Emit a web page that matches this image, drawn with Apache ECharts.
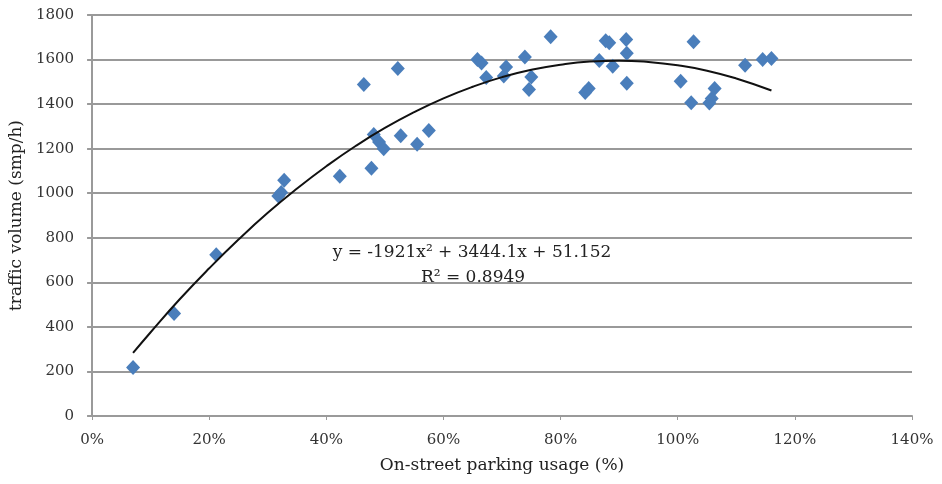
<!DOCTYPE html>
<html>
<head>
<meta charset="utf-8">
<script src="https://cdn.jsdelivr.net/npm/echarts@6/dist/echarts.min.js"></script>
<style>
  html, body { margin: 0; padding: 0; background: #fff; }
  #chart { width: 942px; height: 484px; }
</style>
</head>
<body>
<div id="chart"></div>
<script>
  // parking usage (fraction) vs traffic volume (smp/h)
  var usage = [
    0.07, 0.14, 0.212, 0.318, 0.323, 0.328, 0.423, 0.464, 0.477, 0.481,
    0.49, 0.498, 0.522, 0.527, 0.555, 0.575, 0.658, 0.665, 0.673, 0.703,
    0.707, 0.739, 0.746, 0.75, 0.783, 0.842, 0.848, 0.866, 0.877, 0.883,
    0.889, 0.912, 0.913, 0.913, 1.005, 1.023, 1.027, 1.054, 1.058, 1.063,
    1.115, 1.145, 1.16
  ];
  var volume = [
    218, 460, 724, 988, 1003, 1058, 1076, 1488, 1112, 1264,
    1230, 1200, 1560, 1258, 1220, 1282, 1600, 1585, 1520, 1526,
    1567, 1612, 1466, 1522, 1702, 1452, 1470, 1596, 1684, 1675,
    1570, 1690, 1628, 1494, 1503, 1406, 1680, 1405, 1425, 1470,
    1575, 1600, 1605
  ];

  // polynomial trendline as drawn
  var trendX = [0.07, 0.10, 0.15, 0.20, 0.25, 0.30, 0.35, 0.40, 0.45, 0.50, 0.55,
                0.60, 0.65, 0.70, 0.75, 0.80, 0.85, 0.90, 0.95, 1.00, 1.05, 1.10, 1.16];
  var trendY = [283, 376, 525, 663, 792, 912, 1021, 1121, 1212, 1293, 1364,
                1426, 1478, 1521, 1554, 1577, 1591, 1595, 1589, 1574, 1550, 1515, 1461];

  var yTicks = [0, 200, 400, 600, 800, 1000, 1200, 1400, 1600, 1800];
  var equationText = 'y = -1921x\u00b2 + 3444.1x + 51.152';
  var r2Text = 'R\u00b2 = 0.8949';

  var pts = usage.map(function (u, i) { return [u, volume[i]]; });
  var trend = trendX.map(function (u, i) { return [u, trendY[i]]; });

  var font = '"DejaVu Serif", "Liberation Serif", serif';
  var myChart = echarts.init(document.getElementById('chart'));

  var option = {
    animation: false,
    backgroundColor: '#fff',
    grid: {
      left: 92,
      right: 30,
      top: 15,
      bottom: 68
    },
    xAxis: {
      type: 'value',
      min: 0,
      max: 1.4,
      interval: 0.2,
      name: 'On-street parking usage (%)',
      nameLocation: 'middle',
      nameGap: 41,
      nameTextStyle: { fontFamily: font, fontSize: 17, color: '#222' },
      splitLine: { show: false },
      axisLine: { show: true, lineStyle: { color: '#9a9a9a', width: 2 } },
      axisTick: { show: true, length: 4, lineStyle: { color: '#9a9a9a', width: 1 } },
      axisLabel: {
        margin: 17,
        fontFamily: font,
        fontSize: 15,
        color: '#333',
        formatter: function (v) { return Math.round(v * 100) + '%'; }
      }
    },
    yAxis: {
      type: 'value',
      min: yTicks[0],
      max: yTicks[yTicks.length - 1],
      interval: 200,
      name: 'traffic volume (smp/h)',
      nameLocation: 'middle',
      nameGap: 66,
      nameTextStyle: { fontFamily: font, fontSize: 17, color: '#222' },
      axisLine: { show: true, lineStyle: { color: '#9a9a9a', width: 2 } },
      axisTick: { show: true, length: 5, lineStyle: { color: '#9a9a9a', width: 2 } },
      splitLine: { show: true, lineStyle: { color: '#999', width: 2 } },
      axisLabel: {
        margin: 18,
        fontFamily: font,
        fontSize: 15,
        color: '#333',
        formatter: function (v) { return String(v); }
      }
    },
    series: [
      {
        name: 'data',
        type: 'scatter',
        data: pts,
        symbol: 'diamond',
        symbolSize: [14, 15],
        itemStyle: { color: '#4a7ebb', opacity: 1 },
        z: 3
      },
      {
        name: 'trend',
        type: 'line',
        data: trend,
        smooth: true,
        showSymbol: false,
        lineStyle: { color: '#111', width: 2 },
        z: 4
      }
    ],
    graphic: [
      {
        type: 'text',
        x: 472,
        y: 253,
        style: { text: equationText, font: '17px ' + font, fill: '#222', align: 'center', verticalAlign: 'middle' }
      },
      {
        type: 'text',
        x: 473,
        y: 278,
        style: { text: r2Text, font: '17px ' + font, fill: '#222', align: 'center', verticalAlign: 'middle' }
      }
    ]
  };
  myChart.setOption(option);
</script>
</body>
</html>
